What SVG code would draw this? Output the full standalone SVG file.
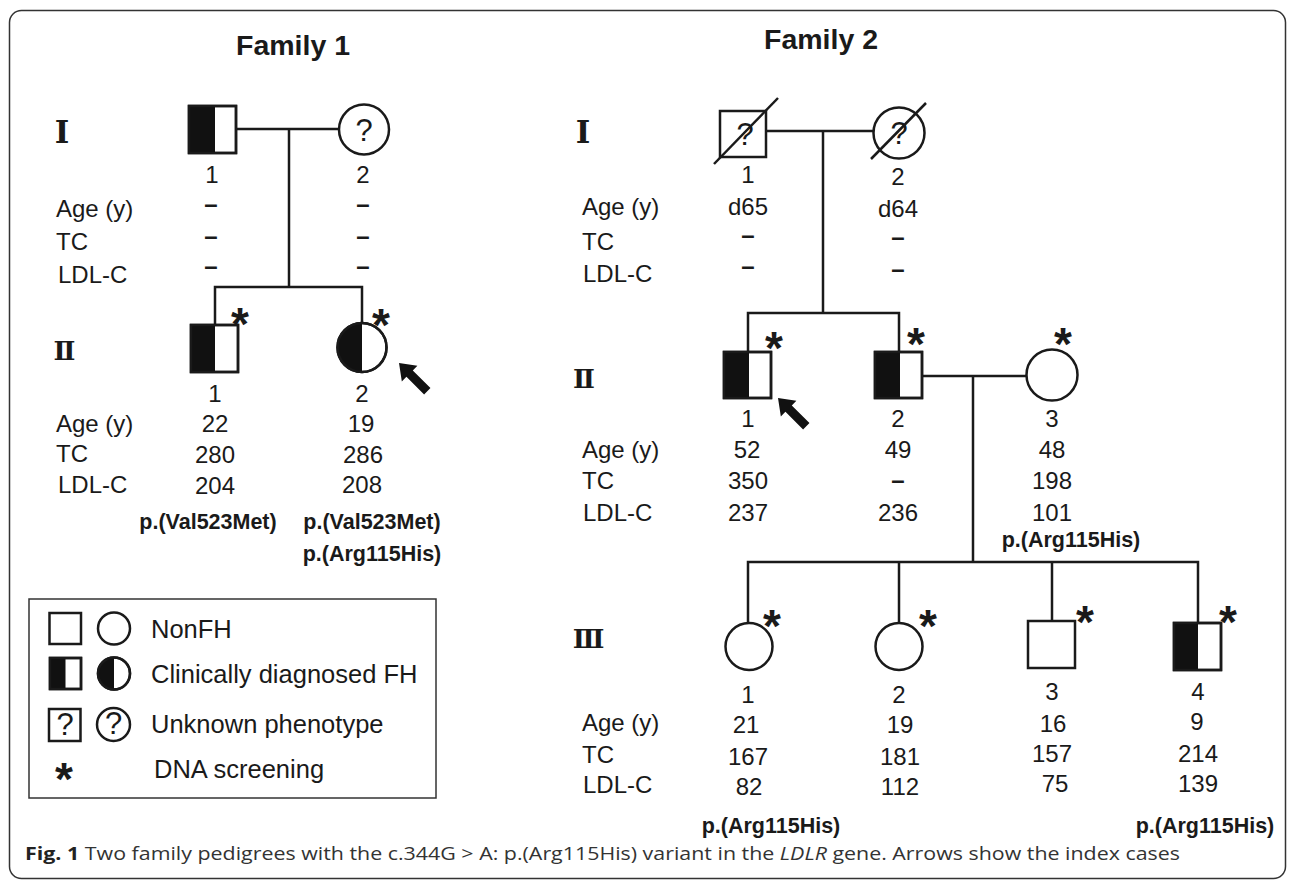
<svg xmlns="http://www.w3.org/2000/svg" width="1292" height="881" viewBox="0 0 1292 881">
<defs>
<style>
.ln{stroke:#1a1a1a;stroke-width:2.5;fill:none}
.sym{stroke:#1a1a1a;stroke-width:2.5;fill:#fff}
.fill{fill:#111;stroke:none}
.t{font-family:"Liberation Sans",Arial,sans-serif;font-size:24px;fill:#1a1a1a}
.c{text-anchor:middle}
.b{font-weight:bold;font-size:21.5px}
.ds{font-weight:bold}
.ast{font-family:"Liberation Sans",Arial,sans-serif;font-weight:bold;font-size:46px;text-anchor:middle;fill:#1a1a1a}
.q{font-family:"Liberation Sans",Arial,sans-serif;font-size:31px;text-anchor:middle;fill:#1a1a1a}
.rom{font-family:"DejaVu Serif","Noto Sans CJK JP",serif;font-weight:bold;fill:#1a1a1a;text-anchor:middle}
.ttl{font-family:"Liberation Sans",Arial,sans-serif;font-weight:bold;font-size:28.5px;text-anchor:middle;fill:#1a1a1a}
.lg{font-family:"Liberation Sans",Arial,sans-serif;font-size:25.5px;fill:#1a1a1a}
</style>
<polygon id="arrow" points="0,0 15,-11 15,-4.5 40,-4.5 40,4.5 15,4.5 15,11" fill="#111"/>
</defs>

<rect x="9.5" y="10.5" width="1276" height="868" rx="12" fill="#fff" stroke="#333" stroke-width="1.5"/>

<text class="ttl" x="293" y="55">Family 1</text>
<text class="ttl" x="821" y="49">Family 2</text>

<!-- generation labels -->
<g id="gen-labels">
<text class="rom" x="62" y="143" font-size="31">Ⅰ</text>
<text class="rom" x="64.5" y="360" font-size="26">Ⅱ</text>
<text class="rom" x="583" y="143" font-size="31">Ⅰ</text>
<text class="rom" x="584" y="388" font-size="26">Ⅱ</text>
<text class="rom" x="588.5" y="648" font-size="26">Ⅲ</text>
</g>

<!-- connectors -->
<g id="connectors">
<line class="ln" x1="236" y1="129" x2="339" y2="129"/>
<line class="ln" x1="289" y1="129" x2="289" y2="287"/>
<polyline class="ln" points="215,325 215,287 362,287 362,323"/>
<line class="ln" x1="766" y1="131" x2="873" y2="131"/>
<line class="ln" x1="823" y1="131" x2="823" y2="313"/>
<polyline class="ln" points="748,352 748,313 899,313 899,352"/>
<line class="ln" x1="922" y1="376" x2="1027" y2="376"/>
<line class="ln" x1="973" y1="376" x2="973" y2="562"/>
<polyline class="ln" points="748,623 748,562 1198,562 1198,623"/>
<line class="ln" x1="899" y1="562" x2="899" y2="623"/>
<line class="ln" x1="1052" y1="562" x2="1052" y2="621"/>
</g>

<!-- row labels -->
<g id="row-labels">
<text class="t" x="56" y="217">Age (y)</text>
<text class="t" x="56" y="250">TC</text>
<text class="t" x="58" y="283">LDL-C</text>
<text class="t" x="56" y="432">Age (y)</text>
<text class="t" x="56" y="462">TC</text>
<text class="t" x="58" y="493">LDL-C</text>
<text class="t" x="582" y="215">Age (y)</text>
<text class="t" x="582" y="250">TC</text>
<text class="t" x="583" y="282">LDL-C</text>
<text class="t" x="582" y="458">Age (y)</text>
<text class="t" x="582" y="489">TC</text>
<text class="t" x="583" y="521">LDL-C</text>
<text class="t" x="582" y="731">Age (y)</text>
<text class="t" x="582" y="763">TC</text>
<text class="t" x="583" y="793">LDL-C</text>
</g>

<g id="f1-I-1">
<rect class="sym" x="189" y="106" width="47" height="47"/>
<rect class="fill" x="189" y="106" width="26" height="47"/>
<rect class="ln" x="189" y="106" width="47" height="47"/>
<text class="t c" x="212" y="183">1</text>
<text class="t c ds" x="211" y="212">–</text>
<text class="t c ds" x="211" y="244">–</text>
<text class="t c ds" x="211" y="274">–</text>
</g>

<g id="f1-I-2">
<circle class="sym" cx="364" cy="129.5" r="25"/>
<text class="q" x="364" y="141">?</text>
<text class="t c" x="363" y="183">2</text>
<text class="t c ds" x="363" y="212">–</text>
<text class="t c ds" x="363" y="244">–</text>
<text class="t c ds" x="363" y="274">–</text>
</g>

<g id="f1-II-1">
<rect class="sym" x="191" y="325" width="47" height="47"/>
<rect class="fill" x="191" y="325" width="24" height="47"/>
<rect class="ln" x="191" y="325" width="47" height="47"/>
<text class="ast" x="240" y="340">*</text>
<text class="t c" x="215" y="402">1</text>
<text class="t c" x="215" y="432">22</text>
<text class="t c" x="215" y="463">280</text>
<text class="t c" x="215" y="494">204</text>
<text class="t c b" x="208" y="529">p.(Val523Met)</text>
</g>

<g id="f1-II-2">
<circle class="sym" cx="362" cy="347.5" r="24.5"/>
<path class="fill" d="M362,323 A24.5,24.5 0 0 0 362,372 Z"/>
<circle class="ln" cx="362" cy="347.5" r="24.5"/>
<text class="ast" x="381" y="341">*</text>
<use href="#arrow" transform="translate(399,363) rotate(45)"/>
<text class="t c" x="362" y="402">2</text>
<text class="t c" x="361" y="432">19</text>
<text class="t c" x="363" y="463">286</text>
<text class="t c" x="362" y="493">208</text>
<text class="t c b" x="372" y="529">p.(Val523Met)</text>
<text class="t c b" x="372" y="561">p.(Arg115His)</text>
</g>

<g id="f2-I-1">
<rect class="sym" x="720" y="111" width="46" height="46"/>
<text class="q" x="745" y="145">?</text>
<line class="ln" x1="714" y1="164" x2="778" y2="98"/>
<text class="t c" x="748" y="183">1</text>
<text class="t c" x="748" y="215">d65</text>
<text class="t c ds" x="748" y="243">–</text>
<text class="t c ds" x="748" y="274">–</text>
</g>

<g id="f2-I-2">
<circle class="sym" cx="899" cy="133" r="25.5"/>
<text class="q" x="899" y="144">?</text>
<line class="ln" x1="871" y1="159" x2="926" y2="103"/>
<text class="t c" x="898" y="185">2</text>
<text class="t c" x="898" y="217">d64</text>
<text class="t c ds" x="898" y="245">–</text>
<text class="t c ds" x="898" y="277">–</text>
</g>

<g id="f2-II-1">
<rect class="sym" x="724" y="352" width="47" height="46"/>
<rect class="fill" x="724" y="352" width="25" height="46"/>
<rect class="ln" x="724" y="352" width="47" height="46"/>
<text class="ast" x="774" y="364">*</text>
<use href="#arrow" transform="translate(778,398) rotate(45)"/>
<text class="t c" x="748" y="427">1</text>
<text class="t c" x="747" y="458">52</text>
<text class="t c" x="748" y="489">350</text>
<text class="t c" x="748" y="521">237</text>
</g>

<g id="f2-II-2">
<rect class="sym" x="875" y="352" width="47" height="46"/>
<rect class="fill" x="875" y="352" width="25" height="46"/>
<rect class="ln" x="875" y="352" width="47" height="46"/>
<text class="ast" x="916" y="360">*</text>
<text class="t c" x="898" y="427">2</text>
<text class="t c" x="898" y="458">49</text>
<text class="t c ds" x="898" y="488">–</text>
<text class="t c" x="898" y="521">236</text>
</g>

<g id="f2-II-3">
<circle class="sym" cx="1052" cy="375" r="25.5"/>
<text class="ast" x="1063" y="360">*</text>
<text class="t c" x="1052" y="427">3</text>
<text class="t c" x="1052" y="458">48</text>
<text class="t c" x="1052" y="489">198</text>
<text class="t c" x="1052" y="521">101</text>
<text class="t c b" x="1071" y="547">p.(Arg115His)</text>
</g>

<g id="f2-III-1">
<circle class="sym" cx="749" cy="646.5" r="23.5"/>
<text class="ast" x="772" y="642">*</text>
<text class="t c" x="748" y="703">1</text>
<text class="t c" x="746" y="733">21</text>
<text class="t c" x="748" y="765">167</text>
<text class="t c" x="749" y="795">82</text>
<text class="t c b" x="771" y="833">p.(Arg115His)</text>
</g>

<g id="f2-III-2">
<circle class="sym" cx="899" cy="646.5" r="23.5"/>
<text class="ast" x="928" y="642">*</text>
<text class="t c" x="899" y="703">2</text>
<text class="t c" x="900" y="733">19</text>
<text class="t c" x="900" y="765">181</text>
<text class="t c" x="900" y="795">112</text>
</g>

<g id="f2-III-3">
<rect class="sym" x="1028" y="621" width="47" height="47"/>
<text class="ast" x="1085" y="638">*</text>
<text class="t c" x="1052" y="700">3</text>
<text class="t c" x="1053" y="732">16</text>
<text class="t c" x="1052" y="762">157</text>
<text class="t c" x="1055" y="792">75</text>
</g>

<g id="f2-III-4">
<rect class="sym" x="1174" y="623" width="47" height="47"/>
<rect class="fill" x="1174" y="623" width="24" height="47"/>
<rect class="ln" x="1174" y="623" width="47" height="47"/>
<text class="ast" x="1228" y="638">*</text>
<text class="t c" x="1198" y="700">4</text>
<text class="t c" x="1197" y="730">9</text>
<text class="t c" x="1198" y="762">214</text>
<text class="t c" x="1198" y="792">139</text>
<text class="t c b" x="1205" y="833">p.(Arg115His)</text>
</g>

<g id="legend">
<rect x="29" y="599" width="407" height="199" fill="#fff" stroke="#333" stroke-width="1.5"/>
<rect class="sym" x="49.5" y="613" width="31.5" height="31"/>
<circle class="sym" cx="114" cy="628.5" r="16"/>
<text class="lg" x="151" y="638">NonFH</text>
<rect class="sym" x="50" y="658" width="31" height="31"/>
<rect class="fill" x="50" y="658" width="15.5" height="31"/>
<rect class="ln" x="50" y="658" width="31" height="31"/>
<circle class="sym" cx="114" cy="673.5" r="16"/>
<path class="fill" d="M114,657.5 A16,16 0 0 0 114,689.5 Z"/>
<circle class="ln" cx="114" cy="673.5" r="16"/>
<text class="lg" x="151" y="683">Clinically diagnosed FH</text>
<rect class="sym" x="49" y="709" width="31.5" height="32"/>
<text class="q" x="65" y="735" font-size="24">?</text>
<circle class="sym" cx="113.5" cy="724.5" r="16.5"/>
<text class="q" x="113.5" y="734" font-size="24">?</text>
<text class="lg" x="151" y="733">Unknown phenotype</text>
<text class="ast" x="64" y="795">*</text>
<text class="lg" x="154" y="778">DNA screening</text>
</g>

<text x="25" y="860" font-family="'Open Sans','Noto Sans',sans-serif" font-size="18" fill="#333" textLength="1155" lengthAdjust="spacingAndGlyphs"><tspan font-weight="bold" fill="#222">Fig. 1</tspan> Two family pedigrees with the c.344G &gt; A: p.(Arg115His) variant in the <tspan font-style="italic">LDLR</tspan> gene. Arrows show the index cases</text>
</svg>
